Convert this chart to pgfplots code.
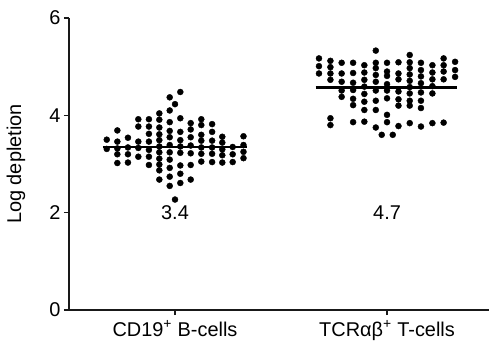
\documentclass[border=0pt]{standalone}
\usepackage{pgfplots}
\pgfplotsset{compat=1.18}
\usepackage{fontspec}
\setmainfont{Liberation Sans}
\begin{document}
\begin{tikzpicture}[x=1bp,y=1bp]
\path[use as bounding box] (-69,-33) rectangle (420,310);
\begin{axis}[at={(0,0)},anchor=south west,
  width=420bp, height=292bp, scale only axis,
  xmin=-0.5, xmax=1.481, ymin=0, ymax=6,
  axis x line*=bottom, axis y line*=left,
  axis line style={-, line width=1.8bp, black!90},
  xtick={0,1}, xticklabels={CD19\textsuperscript{+} B-cells, TCRαβ\textsuperscript{+} T-cells},
  ytick={0,2,4,6},
  tick align=outside, major tick length=5bp,
  tick style={line width=1.5bp, black!90},
  /pgf/number format/assume math mode=true,
  tick label style={font=\fontsize{20}{24}\selectfont},
  xticklabel style={yshift=-2bp},
  ylabel={Log depletion},
  every axis y label/.style={at={(axis description cs:-0.126,0.5)},rotate=90,anchor=center,font=\fontsize{20}{24}\selectfont},
  clip=false,
]
% CD19+ B-cells
\addplot[only marks, mark=*, mark size=3bp, black] coordinates {
(-0.322,3.50) (-0.322,3.31)
(-0.272,3.69) (-0.272,3.46) (-0.272,3.32) (-0.272,3.20) (-0.272,3.02)
(-0.222,3.54) (-0.222,3.34) (-0.222,3.20) (-0.222,3.03)
(-0.173,3.92) (-0.173,3.77) (-0.173,3.46) (-0.173,3.33) (-0.173,3.15)
(-0.123,3.92) (-0.123,3.77) (-0.123,3.62) (-0.123,3.46) (-0.123,3.29) (-0.123,3.15) (-0.123,2.98)
(-0.074,4.04) (-0.074,3.91) (-0.074,3.75) (-0.074,3.61) (-0.074,3.49) (-0.074,3.36) (-0.074,3.24) (-0.074,3.11) (-0.074,2.99) (-0.074,2.87) (-0.074,2.68)
(-0.025,4.37) (-0.025,4.10) (-0.025,3.86) (-0.025,3.68) (-0.025,3.55) (-0.025,3.39) (-0.025,3.24) (-0.025,3.09) (-0.025,2.92) (-0.025,2.74) (-0.025,2.55)
(0.025,4.48) (0.025,3.94) (0.025,3.66) (0.025,3.49) (0.025,3.36) (0.025,3.23) (0.025,2.97) (0.025,2.80) (0.025,2.61)
(0.0,4.23) (0.0,2.27)
(0.074,3.84) (0.074,3.71) (0.074,3.55) (0.074,3.38) (0.074,3.22) (0.074,2.98) (0.074,2.68)
(0.124,3.92) (0.124,3.80) (0.124,3.60) (0.124,3.48) (0.124,3.34) (0.124,3.21) (0.124,3.05)
(0.175,3.82) (0.175,3.66) (0.175,3.48) (0.175,3.34) (0.175,3.21) (0.175,3.04)
(0.223,3.56) (0.223,3.44) (0.223,3.30) (0.223,3.18) (0.223,3.03)
(0.272,3.35) (0.272,3.20) (0.272,3.04)
(0.323,3.57) (0.323,3.39) (0.323,3.25) (0.323,3.12)
};
% TCRab+ T-cells
\addplot[only marks, mark=*, mark size=3bp, black] coordinates {
(0.679,5.17) (0.679,5.01) (0.679,4.86)
(0.733,5.12) (0.733,4.99) (0.733,4.86) (0.733,4.73) (0.733,3.94) (0.733,3.80)
(0.786,5.08) (0.786,4.86) (0.786,4.69) (0.786,4.51) (0.786,4.38)
(0.840,5.08) (0.840,4.87) (0.840,4.67) (0.840,4.52) (0.840,4.34) (0.840,4.21) (0.840,3.86)
(0.893,5.03) (0.893,4.88) (0.893,4.73) (0.893,4.59) (0.893,4.44) (0.893,4.28) (0.893,4.11) (0.893,3.87)
(0.947,5.33) (0.947,5.08) (0.947,4.97) (0.947,4.83) (0.947,4.69) (0.947,4.51) (0.947,4.30) (0.947,4.11) (0.947,3.75)
(1.000,5.08) (1.000,4.90) (1.000,4.81) (1.000,4.64) (1.000,4.51) (1.000,4.35) (1.000,4.01) (1.000,3.86)
(0.975,3.60) (1.027,3.60)
(1.054,5.09) (1.054,4.86) (1.054,4.74) (1.054,4.49) (1.054,4.33) (1.054,4.20) (1.054,3.78)
(1.107,5.24) (1.107,5.09) (1.107,4.97) (1.107,4.84) (1.107,4.71) (1.107,4.58) (1.107,4.45) (1.107,4.30) (1.107,4.20) (1.107,3.84)
(1.160,5.08) (1.160,4.93) (1.160,4.80) (1.160,4.66) (1.160,4.47) (1.160,4.30) (1.160,4.15) (1.160,3.77)
(1.214,5.03) (1.214,4.88) (1.214,4.74) (1.214,4.60) (1.214,4.45) (1.214,3.84)
(1.267,5.17) (1.267,5.03) (1.267,4.90) (1.267,4.74) (1.267,3.85)
(1.321,5.10) (1.321,4.93) (1.321,4.79)
};
% medians
\addplot[line width=2.8bp, black] coordinates {(-0.34,3.35) (0.34,3.35)};
\addplot[line width=2.8bp, black] coordinates {(0.663,4.57) (1.328,4.57)};
\node[font=\fontsize{20}{24}\selectfont] at (axis cs:0,2.01) {3.4};
\node[font=\fontsize{20}{24}\selectfont] at (axis cs:1,2.01) {4.7};
\end{axis}
\end{tikzpicture}
\end{document}
